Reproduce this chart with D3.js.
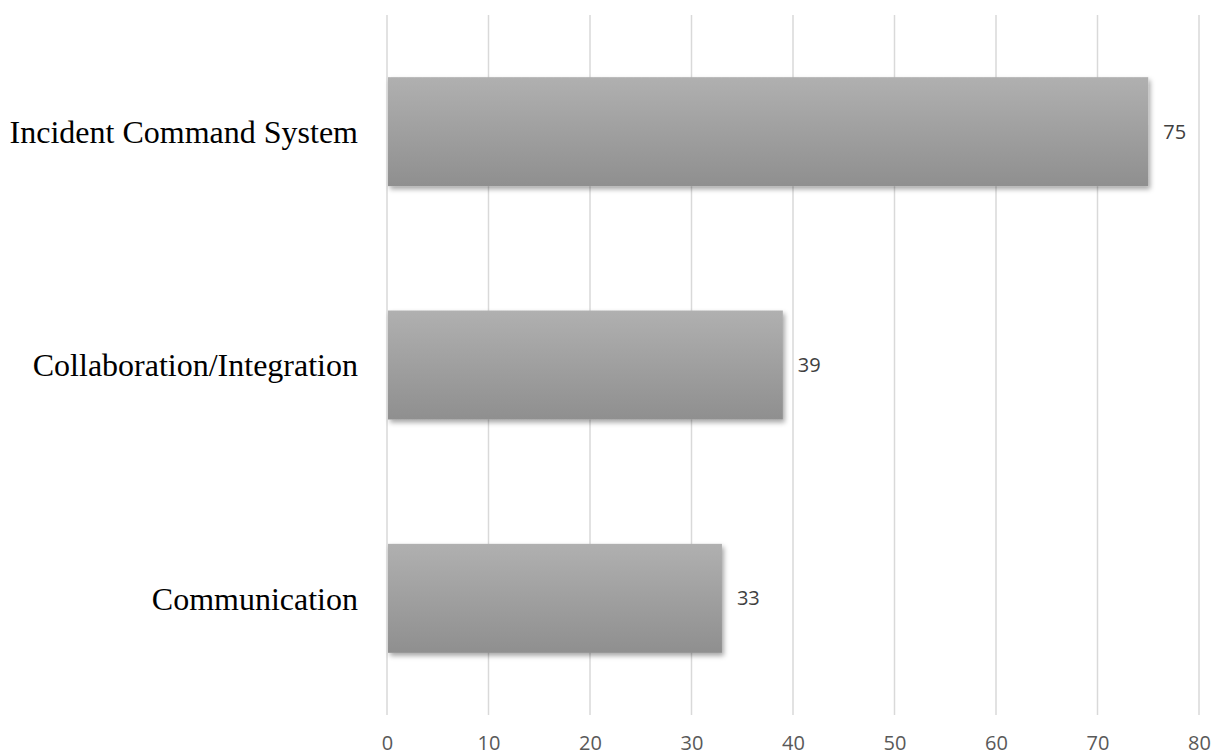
<!DOCTYPE html>
<html><head><meta charset="utf-8">
<script src="https://cdn.jsdelivr.net/npm/d3@7"></script>
<style>html,body{margin:0;padding:0;background:#fff;}</style>
</head><body>
<svg id="chart" width="1213" height="755"></svg>
<script>
const categories = ["Incident Command System", "Collaboration/Integration", "Communication"];
const values = [75, 39, 33];
const xTicks = [0, 10, 20, 30, 40, 50, 60, 70, 80];

const svg = d3.select("#chart");
const plotLeft = 387, plotRight = 1199, plotTop = 15, plotBottom = 715;

const x = d3.scaleLinear().domain([0, 80]).range([plotLeft, plotRight]);
const y = d3.scaleBand().domain(categories).range([plotTop, plotBottom]).paddingInner(0.533).paddingOuter(0.2665);

const defs = svg.append("defs");
const grad = defs.append("linearGradient").attr("id", "barGrad").attr("x1", 0).attr("y1", 0).attr("x2", 0).attr("y2", 1);
grad.append("stop").attr("offset", "0%").attr("stop-color", "#b0b0b0");
grad.append("stop").attr("offset", "100%").attr("stop-color", "#8f8f8f");
const filt = defs.append("filter").attr("id", "shadow").attr("x", "-5%").attr("y", "-10%").attr("width", "115%").attr("height", "130%");
filt.append("feDropShadow").attr("dx", 2).attr("dy", 3).attr("stdDeviation", 2.5).attr("flood-color", "#000").attr("flood-opacity", 0.35);

// gridlines
svg.append("g").selectAll("line").data(xTicks).join("line")
  .attr("x1", d => x(d)).attr("x2", d => x(d))
  .attr("y1", plotTop).attr("y2", plotBottom)
  .attr("stroke", "#d9d9d9").attr("stroke-width", 1.5);

// bars
svg.append("g").selectAll("rect").data(values).join("rect")
  .attr("x", x(0) + 1)
  .attr("y", (d, i) => y(categories[i]))
  .attr("width", d => x(d) - x(0) - 1)
  .attr("height", y.bandwidth())
  .attr("fill", "url(#barGrad)")
  .attr("filter", "url(#shadow)");

// value labels
svg.append("g").selectAll("text").data(values).join("text")
  .attr("x", d => x(d) + 15)
  .attr("y", (d, i) => y(categories[i]) + y.bandwidth() / 2)
  .attr("dy", "0.35em")
  .attr("font-family", "'Open Sans', sans-serif")
  .attr("font-size", 20)
  .attr("fill", "#404040")
  .text(d => d);

// category labels
svg.append("g").selectAll("text").data(categories).join("text")
  .attr("x", 358)
  .attr("y", d => y(d) + y.bandwidth() / 2)
  .attr("dy", "0.35em")
  .attr("text-anchor", "end")
  .attr("font-family", "'Liberation Serif', 'Times New Roman', serif")
  .attr("font-size", 32)
  .attr("fill", "#000")
  .text(d => d);

// x axis
const xAxis = d3.axisBottom(x).tickValues(xTicks).tickSize(0).tickPadding(0);
const gx = svg.append("g").attr("transform", `translate(0, ${plotBottom})`).call(xAxis);
gx.select(".domain").remove();
gx.selectAll("text")
  .attr("y", 28).attr("dy", "0.35em")
  .attr("font-family", "'Open Sans', sans-serif")
  .attr("font-size", 20)
  .attr("fill", "#595959");
</script>
</body></html>
